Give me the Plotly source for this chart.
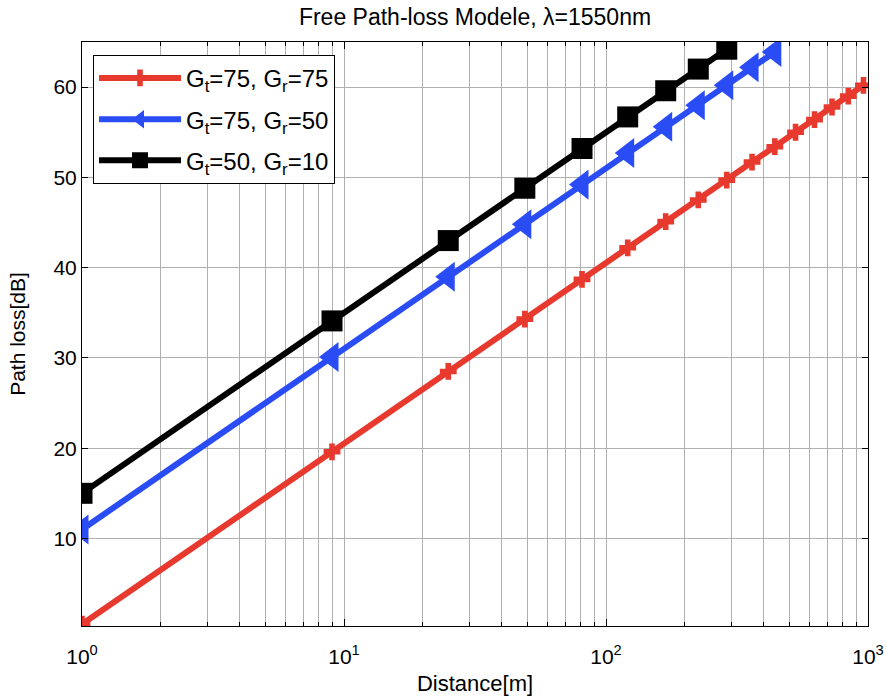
import plotly.graph_objects as go

# Data
dist_red = [1, 9, 25, 49, 81, 121, 169, 225, 289, 361, 441, 529, 625, 729, 841, 961]
loss_red = [0.5, 19.6, 28.5, 34.3, 38.7, 42.2, 45.1, 47.5, 49.7, 51.7, 53.4, 55.0, 56.4, 57.8, 59.0, 60.2]

dist_blue = [1, 9, 25, 49, 81, 121, 169, 225, 289, 361, 441]
loss_blue = [11.0, 30.1, 39.0, 44.8, 49.2, 52.7, 55.6, 58.0, 60.2, 62.2, 63.9]

dist_black = [1, 9, 25, 49, 81, 121, 169, 225, 289]
loss_black = [15.0, 34.1, 43.0, 48.8, 53.2, 56.7, 59.6, 62.0, 64.2]

names = ["G<sub>t</sub>=75, G<sub>r</sub>=75",
         "G<sub>t</sub>=75, G<sub>r</sub>=50",
         "G<sub>t</sub>=50, G<sub>r</sub>=10"]

x_decades = [1, 10, 100, 1000]
x_decade_text = ["10<sup>0</sup>", "10<sup>1</sup>", "10<sup>2</sup>", "10<sup>3</sup>"]
x_minor = [2, 3, 4, 5, 6, 7, 8, 9, 20, 30, 40, 50, 60, 70, 80, 90,
           200, 300, 400, 500, 600, 700, 800, 900]
y_ticks = [10, 20, 30, 40, 50, 60]

RED = "#e8392e"
BLUE = "#2a4cf5"
BLACK = "#000000"
FONT = "Liberation Sans, Arial, sans-serif"
GRID = "#b0b0b0"

fig = go.Figure()
fig.add_trace(go.Scatter(
    x=dist_red, y=loss_red, name=names[0], mode="lines+markers", legendgroup="a",
    line=dict(color=RED, width=6),
    marker=dict(symbol="cross", size=14, color=RED, line=dict(width=0)),
))
fig.add_trace(go.Scatter(
    x=dist_blue, y=loss_blue, name=names[1], mode="lines+markers", legendgroup="b",
    line=dict(color=BLUE, width=6),
    marker=dict(symbol="triangle-left", size=26, color=BLUE, line=dict(width=0)),
))
fig.add_trace(go.Scatter(
    x=dist_black, y=loss_black, name=names[2], mode="lines+markers", legendgroup="c",
    line=dict(color=BLACK, width=6),
    marker=dict(symbol="square", size=21, color=BLACK, line=dict(width=0)),
))

fig.update_layout(
    width=886, height=699, autosize=False,
    margin=dict(l=82, r=18, t=42, b=73),
    paper_bgcolor="white", plot_bgcolor="white",
    font=dict(family=FONT, color="black", size=21),
    title=dict(text="Free Path-loss Modele, λ=1550nm", x=0.5, xanchor="center",
               xref="paper", y=1 - 17 / 699, yanchor="middle",
               font=dict(size=23, family=FONT)),
    showlegend=True,
    legend=dict(x=0.014, y=0.978, xanchor="left", yanchor="top",
                bgcolor="white", bordercolor="black", borderwidth=1,
                font=dict(size=24, family=FONT), itemwidth=82,
                tracegroupgap=7),
)

fig.update_xaxes(
    type="log", range=[0, 3], automargin=False,
    tickmode="array", tickvals=x_decades, ticktext=x_decade_text,
    ticks="inside", ticklen=7, tickcolor="black", ticklabelstandoff=12,
    minor=dict(tickmode="array", tickvals=x_minor, ticks="inside", ticklen=4,
               tickcolor="black", showgrid=True, gridcolor=GRID, gridwidth=1),
    showline=True, linecolor="black", linewidth=1, mirror="ticks",
    showgrid=True, gridcolor=GRID, gridwidth=1,
    zeroline=False,
    tickfont=dict(size=21, family=FONT),
    title=dict(text="Distance[m]", font=dict(size=22, family=FONT), standoff=8),
)
fig.update_yaxes(
    range=[0.3, 65], automargin=False,
    tickmode="array", tickvals=y_ticks,
    ticks="inside", ticklen=6, tickcolor="black",
    showline=True, linecolor="black", linewidth=1, mirror="ticks",
    showgrid=True, gridcolor=GRID, gridwidth=1,
    zeroline=False,
    tickfont=dict(size=21, family=FONT),
    title=dict(text="Path loss[dB]", font=dict(size=21, family=FONT), standoff=22),
)

# remove the page's default body margin so the figure fills the window
fig.write_html("out.html",
               config={"displayModeBar": False},
               post_script="document.body.style.margin='0';document.body.style.overflow='hidden';")
